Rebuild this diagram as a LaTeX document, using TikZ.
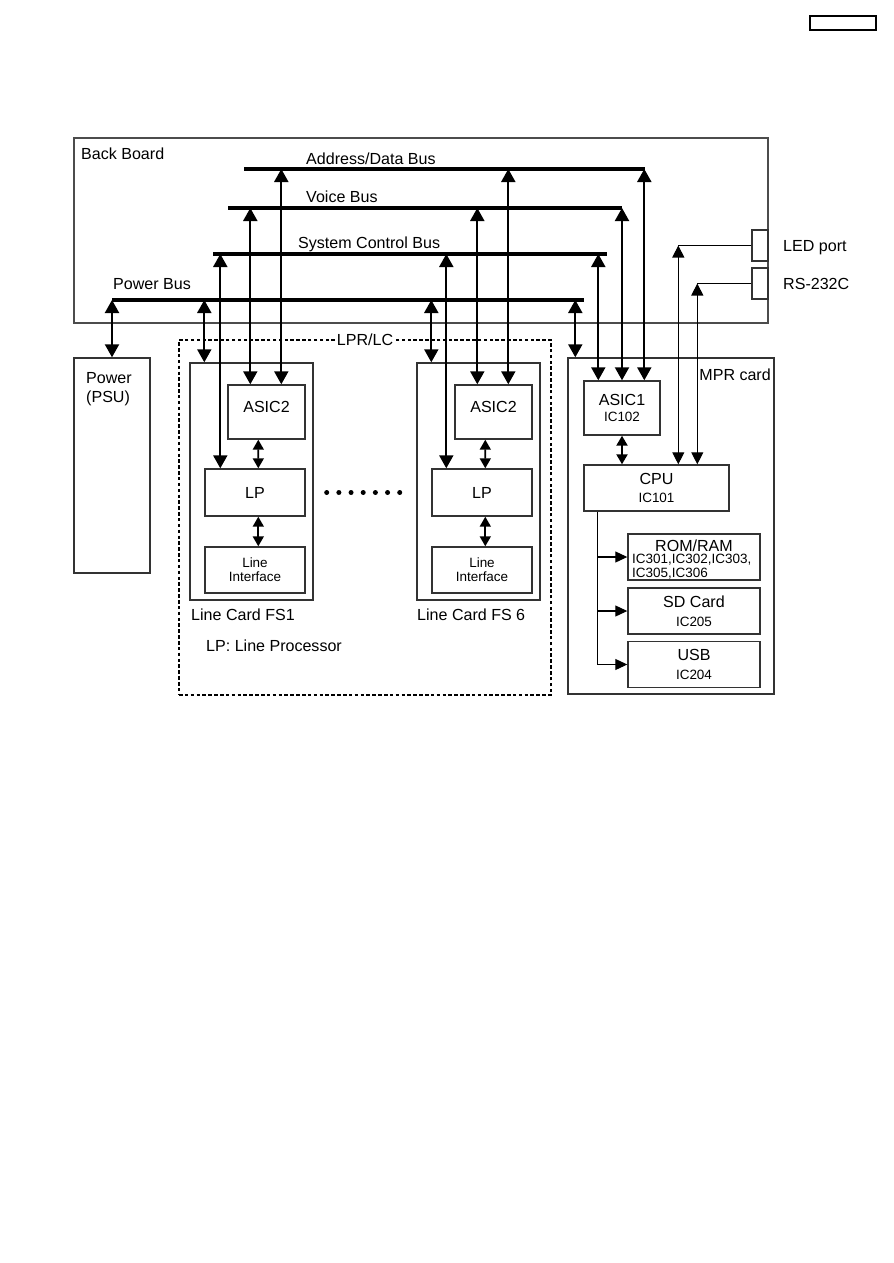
\documentclass[tikz,border=0pt]{standalone}
\usepackage{fontspec}
\setmainfont{Liberation Sans}
\usetikzlibrary{arrows.meta}

\newcommand{\bigsz}{\fontsize{13.7}{16}\selectfont}
\newcommand{\smlsz}{\fontsize{11.5}{12}\selectfont}

\begin{document}
\begin{tikzpicture}[x=0.03cm, y=-0.03cm, every node/.style={font=\bigsz, inner sep=0pt}]

    \useasboundingbox (0,0) rectangle (893,1263);

    % Styles
    \tikzstyle{box} = [draw=black!80, line width=1.2pt, rectangle, align=center]
    \tikzstyle{lbl} = [anchor=base west]
    \tikzstyle{busline} = [line width=3.4pt]
    \tikzstyle{busarrow} = [line width=1.8pt,
        {Triangle[length=0.39cm,width=0.42cm]}-{Triangle[length=0.39cm,width=0.42cm]}]
    \tikzstyle{midarrow} = [line width=1.4pt,
        {Triangle[length=0.3cm,width=0.33cm]}-{Triangle[length=0.3cm,width=0.33cm]}]
    \tikzstyle{thinline} = [line width=0.9pt]
    \tikzstyle{thinarrow} = [line width=0.9pt,
        {Triangle[length=0.36cm,width=0.36cm]}-{Triangle[length=0.36cm,width=0.36cm]}]
    \tikzstyle{feed} = [line width=0.9pt, -{Triangle[length=0.36cm,width=0.33cm]}]

    % Page tag (top right)
    \node[box, draw=black, line width=1.3pt, minimum width=1.98cm, minimum height=0.42cm] (tag) at (843,23) {};

    % Back board with its buses
    \node[box, draw=black!70, minimum width=20.82cm, minimum height=5.55cm] (bb) at (421,230.5) {};
    \node[lbl] (bbtxt) at (81,159) {Back Board};

    \coordinate (adbL) at (244,169);  \coordinate (adbR) at (645,169);
    \coordinate (vbL)  at (228,208);  \coordinate (vbR)  at (622,208);
    \coordinate (scbL) at (213,254);  \coordinate (scbR) at (607,254);
    \coordinate (pbL)  at (112,300);  \coordinate (pbR)  at (584,300);

    \node[lbl] (adbtxt) at (306,164) {Address/Data Bus};
    \node[lbl] (vbtxt)  at (306,202) {Voice Bus};
    \node[lbl] (scbtxt) at (298,248) {System Control Bus};
    \node[lbl] (pbtxt)  at (113,289) {Power Bus};

    % Ports on the back board edge
    \node[box, minimum width=0.48cm, minimum height=0.93cm] (led) at (760,245.5) {};
    \node[box, minimum width=0.48cm, minimum height=0.93cm] (rs)  at (760,283.5) {};
    \node[lbl] (ledtxt) at (783,251) {LED port};
    \node[lbl] (rstxt)  at (783,289) {RS-232C};

    % Power supply
    \node[box, minimum width=2.28cm, minimum height=6.45cm] (psu) at (112,465.5) {};
    \node[anchor=north west, align=left] (psutxt) at (86,372.5) {Power\\(PSU)};

    % LPR/LC group
    \node[box, draw=black, dash pattern=on 3pt off 2pt, minimum width=11.16cm, minimum height=10.65cm] (lpr) at (365,517.5) {};
    \node[fill=white, inner xsep=2pt] (lprtxt) at (lpr.north) {LPR/LC};

    % Line card FS1
    \node[box, minimum width=3.69cm, minimum height=7.11cm] (lc1) at (251.5,481.5) {};
    \node[box, minimum width=2.31cm, minimum height=1.62cm, text height=0.33cm, text depth=0.33cm] (asic2a) at (266.5,412) {ASIC2};
    \node[box, minimum width=3cm, minimum height=1.41cm] (lp1) at (255,492.5) {LP};
    \node[box, minimum width=3cm, minimum height=1.38cm, font=\smlsz] (li1) at (255,570) {Line\\Interface};
    \node[lbl] (lc1txt) at (191,620) {Line Card FS1};

    % Line card FS6
    \node[box, minimum width=3.69cm, minimum height=7.11cm] (lc6) at (478.5,481.5) {};
    \node[box, minimum width=2.31cm, minimum height=1.62cm, text height=0.33cm, text depth=0.33cm] (asic2b) at (493.5,412) {ASIC2};
    \node[box, minimum width=3cm, minimum height=1.41cm] (lp6) at (482,492.5) {LP};
    \node[box, minimum width=3cm, minimum height=1.38cm, font=\smlsz] (li6) at (482,570) {Line\\Interface};
    \node[lbl] (lc6txt) at (417,620) {Line Card FS 6};

    \node[lbl] (lpnote) at (206,651) {LP: Line Processor};

    % seven dots between the two cards
    \fill ([xshift=0.63cm]lp1.east) circle (0.075cm) ++(12.17,0) circle (0.075cm)
        ++(12.17,0) circle (0.075cm) ++(12.17,0) circle (0.075cm) ++(12.17,0) circle (0.075cm)
        ++(12.17,0) circle (0.075cm) ++(12.17,0) circle (0.075cm);

    % MPR card
    \node[box, minimum width=6.18cm, minimum height=10.08cm] (mpr) at (671,526) {};
    \node[anchor=base east] (mprtxt) at (771,380) {MPR card};
    \node[box, minimum width=2.28cm, minimum height=1.62cm] (asic1) at (622,408) {ASIC1\\[-2pt]{\smlsz IC102}};
    \node[box, minimum width=4.35cm, minimum height=1.38cm] (cpu) at (656.5,488) {CPU\\{\smlsz IC101}};
    \node[box, minimum width=3.96cm, minimum height=1.38cm, text height=0.35cm, text depth=0.71cm] (mem) at (694,557) {ROM/RAM};
    \node[anchor=north west, align=left, font=\smlsz] (memics) at (632,553.5) {IC301,IC302,IC303,\\IC305,IC306};
    \node[box, minimum width=3.96cm, minimum height=1.38cm] (sd)  at (694,611) {SD Card\\{\smlsz IC205}};
    \node[box, minimum width=3.96cm, minimum height=1.38cm] (usb) at (694,664.5) {USB\\{\smlsz IC204}};

    % Bus drops: power
    \draw[busarrow] (pbL) -- (psu.north);
    \draw[busarrow] ([xshift=0.45cm]lc1.north west |- pbL) -- ([xshift=0.45cm]lc1.north west);
    \draw[busarrow] ([xshift=0.45cm]lc6.north west |- pbL) -- ([xshift=0.45cm]lc6.north west);
    \draw[busarrow] ([xshift=0.24cm]mpr.north west |- pbL) -- ([xshift=0.24cm]mpr.north west);

    % Bus drops: system control
    \draw[busarrow] ([xshift=0.48cm]lp1.north west |- scbL) -- ([xshift=0.48cm]lp1.north west);
    \draw[busarrow] ([xshift=0.45cm]lp6.north west |- scbL) -- ([xshift=0.45cm]lp6.north west);
    \draw[busarrow] ([xshift=0.45cm]asic1.north west |- scbL) -- ([xshift=0.45cm]asic1.north west);

    % Bus drops: voice
    \draw[busarrow] ([xshift=0.69cm]asic2a.north west |- vbL) -- ([xshift=0.69cm]asic2a.north west);
    \draw[busarrow] ([xshift=0.69cm]asic2b.north west |- vbL) -- ([xshift=0.69cm]asic2b.north west);
    \draw[busarrow] (asic1.north |- vbL) -- (asic1.north);

    % Bus drops: address/data
    \draw[busarrow] ([xshift=1.62cm]asic2a.north west |- adbL) -- ([xshift=1.62cm]asic2a.north west);
    \draw[busarrow] ([xshift=1.62cm]asic2b.north west |- adbL) -- ([xshift=1.62cm]asic2b.north west);
    \draw[busarrow] ([xshift=1.83cm]asic1.north west |- adbL) -- ([xshift=1.83cm]asic1.north west);

    % Buses on top
    \draw[busline] (adbL) -- (adbR);
    \draw[busline] (vbL) -- (vbR);
    \draw[busline] (scbL) -- (scbR);
    \draw[busline] (pbL) -- (pbR);

    % Inside the line cards
    \draw[midarrow] ([xshift=0.93cm]asic2a.south west) -- ([xshift=1.62cm]lp1.north west);
    \draw[midarrow] ([xshift=1.62cm]lp1.south west) -- ([xshift=1.62cm]li1.north west);
    \draw[midarrow] ([xshift=0.93cm]asic2b.south west) -- ([xshift=1.62cm]lp6.north west);
    \draw[midarrow] ([xshift=1.62cm]lp6.south west) -- ([xshift=1.62cm]li6.north west);

    % Inside the MPR card
    \draw[midarrow, line width=1.8pt] (asic1.south) -- (asic1.south |- cpu.north);

    \coordinate (ledc) at ([xshift=2.85cm]cpu.north west |- led.west);
    \coordinate (rsc)  at ([xshift=3.42cm]cpu.north west |- rs.west);
    \draw[thinline] (led.west) -- (ledc);
    \draw[thinarrow] (ledc) -- ([xshift=2.85cm]cpu.north west);
    \draw[thinline] (rs.west) -- (rsc);
    \draw[thinarrow] (rsc) -- ([xshift=3.42cm]cpu.north west);

    \coordinate (cpub) at ([xshift=0.42cm]cpu.south west);
    \draw[thinline] (cpub) -- (cpub |- usb.west);
    \draw[feed] (cpub |- mem.west) -- (mem.west);
    \draw[feed] (cpub |- sd.west) -- (sd.west);
    \draw[feed] (cpub |- usb.west) -- (usb.west);

\end{tikzpicture}
\end{document}
